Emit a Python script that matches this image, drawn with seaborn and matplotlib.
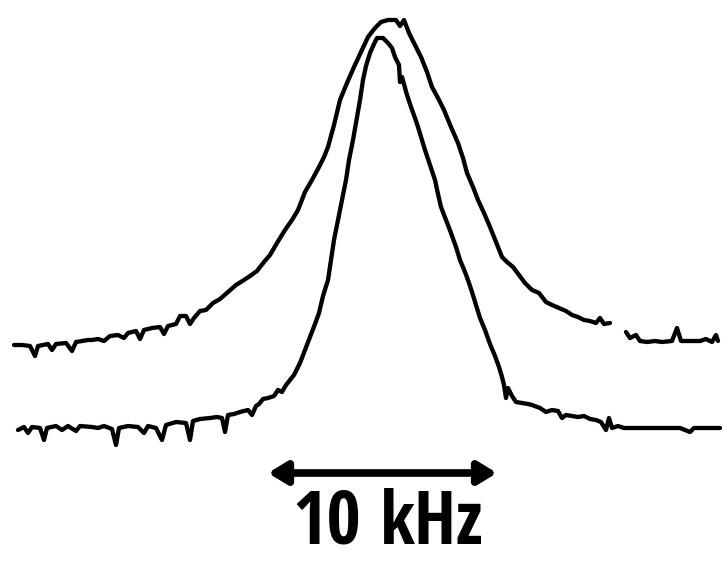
import numpy as np
import pandas as pd
import matplotlib
matplotlib.use("Agg")
import matplotlib.pyplot as plt
from matplotlib import font_manager
from matplotlib.textpath import TextPath
import seaborn as sns

# Frequency axis in channels (225 channels = 10 kHz), signal in arbitrary units
broad_ch = [14, 22, 30, 35, 38, 48, 52, 56, 66, 72, 76, 88, 92, 98, 104, 110, 118, 124, 128, 136,
            140, 144, 152, 160, 164, 168, 176, 180, 186, 190, 194, 200, 206, 213, 220, 228, 236, 244,
            250, 257, 264, 270, 277, 285, 292, 298, 305, 312, 319, 324, 328, 334, 340, 347, 354, 361,
            368, 375, 381, 388, 396, 400, 404, 409, 415, 421, 427, 432, 438, 444, 451, 458, 463, 467,
            473, 478, 484, 490, 496, 502, 507, 513, 519, 525, 532, 539, 546, 552, 559, 566, 572, 578,
            584, 590, 596, 600, 604, 610]
broad_sig = [224, 224, 223, 213, 223, 225, 219, 225, 226, 218, 227, 229, 229, 230, 228, 233, 234, 231, 236, 238,
             230, 239, 241, 242, 235, 243, 245, 253, 253, 245, 251, 258, 259, 266, 270, 277, 284, 289,
             293, 298, 307, 314, 326, 339, 349, 359, 377, 389, 402, 412, 422, 444, 469, 486, 502, 517,
             532, 541, 547, 549, 549, 543, 549, 536, 524, 512, 497, 482, 471, 459, 442, 426, 411, 396,
             382, 369, 356, 342, 327, 312, 307, 302, 294, 286, 279, 276, 267, 264, 261, 258, 254, 252,
             249, 248, 246, 251, 245, 246]
broad_tail_ch = [626, 630, 636, 640, 647, 655, 662, 672, 677, 681, 690, 700, 706, 712, 716, 718]
broad_tail_sig = [237, 231, 234, 228, 227, 228, 227, 228, 241, 228, 228, 228, 230, 227, 234, 228]

narrow_ch = [18, 24, 28, 32, 40, 44, 47, 56, 62, 68, 76, 80, 92, 98, 104, 112, 116, 119, 128, 138,
             144, 148, 156, 162, 166, 176, 186, 190, 193, 200, 210, 217, 222, 225, 228, 234, 240, 248,
             252, 256, 259, 263, 268, 274, 278, 282, 286, 290, 294, 300, 305, 310, 315, 319, 323, 328,
             331, 334, 338, 342, 346, 349, 353, 356, 360, 363, 366, 370, 374, 377, 383, 388, 392, 395,
             399, 400, 402, 407, 411, 415, 418, 422, 425, 430, 435, 438, 441, 446, 451, 456, 460, 465,
             469, 472, 476, 480, 485, 490, 495, 499, 502, 504, 506, 508, 512, 516, 522, 528, 532, 540,
             546, 552, 558, 562, 566, 572, 578, 584, 590, 596, 601, 606, 609, 612, 618, 624, 640, 660,
             680, 690, 694, 710, 720]
narrow_sig = [139, 142, 136, 142, 141, 129, 141, 143, 139, 143, 138, 143, 142, 141, 143, 140, 124, 141, 143, 142,
              136, 143, 141, 129, 144, 147, 146, 129, 148, 150, 151, 152, 151, 137, 154, 155, 157, 159,
              154, 163, 165, 170, 171, 173, 179, 177, 184, 189, 194, 206, 219, 232, 245, 256, 273, 289,
              309, 329, 349, 369, 389, 409, 429, 446, 469, 489, 503, 516, 525, 531, 531, 526, 521, 512,
              504, 487, 492, 474, 462, 451, 442, 429, 419, 404, 389, 375, 362, 349, 336, 322, 309, 297,
              286, 277, 264, 251, 239, 225, 213, 202, 192, 184, 171, 181, 173, 167, 166, 165, 164, 161,
              157, 159, 158, 151, 154, 153, 152, 153, 150, 149, 147, 139, 151, 141, 143, 141, 141, 141,
              141, 137, 141, 141, 141]

scale_start, scale_end = 268, 497   # 10 kHz scale bar (channels)
scale_value, scale_unit = "10", "kHz"

frames = []
for seg, (ch, sig) in enumerate([(broad_ch, broad_sig), (broad_tail_ch, broad_tail_sig)]):
    frames.append(pd.DataFrame({"ch": ch, "sig": sig, "seg": seg, "trace": "broad"}))
frames.append(pd.DataFrame({"ch": narrow_ch, "sig": narrow_sig, "seg": 2, "trace": "narrow"}))
df = pd.concat(frames, ignore_index=True)

ALLOWED = ("dejavu sans", "liberation sans", "noto sans", "roboto", "open sans", "lato", "inter")


def path_w(s, prop):
    return TextPath((0, 0), s, prop=prop, size=100).get_extents().width


def pick_narrow_bold():
    """Pick the narrowest standard upright bold sans face (measured) for the DIN-like label."""
    best = None
    seen = set()
    for f in font_manager.fontManager.ttflist:
        if f.fname in seen:
            continue
        seen.add(f.fname)
        name = f.name.lower()
        if not name.startswith(ALLOWED):
            continue
        w = f.weight if isinstance(f.weight, int) else (700 if "bold" in str(f.weight) else 400)
        if w < 600 or w > 800 or f.style != "normal":
            continue
        low = (f.name + f.fname).lower()
        if any(k in low for k in ("mono", "cjk", "math", "symbol", "display", "italic")):
            continue
        try:
            prop = font_manager.FontProperties(fname=f.fname)
            cap = TextPath((0, 0), "H", prop=prop, size=100).get_extents().height
            ratio = (path_w("10", prop) + path_w("kHz", prop)) / cap
        except Exception:
            continue
        if not np.isfinite(ratio) or ratio < 2.0:
            continue
        if best is None or ratio < best[0]:
            best = (ratio, f.fname, cap)
    if best is None:
        prop = font_manager.FontProperties(family="DejaVu Sans", weight="bold")
        cap = TextPath((0, 0), "H", prop=prop, size=100).get_extents().height
        return prop, cap
    return font_manager.FontProperties(fname=best[1]), best[2]


fprop, cap100 = pick_narrow_bold()
px_per_pt = 100 / 72
size_cap = 53 / (cap100 / 100) / px_per_pt
w_words100 = path_w(scale_value, fprop) + path_w(scale_unit, fprop)
size_fit = (191 - 26) / (w_words100 / 100) / px_per_pt
fprop.set_size(min(size_cap, size_fit))

sns.set_theme(style="white")
fig = plt.figure(figsize=(7.23, 5.69), dpi=100)
ax = fig.add_axes([0, 0, 1, 1])

sns.lineplot(data=df, x="ch", y="sig", units="seg", estimator=None, sort=False,
             color="black", lw=3.1, ax=ax, legend=False)

ax.annotate("", xy=(scale_start, 96), xytext=(scale_end, 96),
            arrowprops=dict(arrowstyle="<|-|>,head_length=0.9,head_width=0.55",
                            lw=5.5, color="black", shrinkA=0, shrinkB=0))
ax.text(292, 53, scale_value, ha="left", va="center_baseline",
        fontproperties=fprop, color="black")
ax.text(483, 53, scale_unit, ha="right", va="center_baseline",
        fontproperties=fprop, color="black")

ax.set_xlim(0, 723)
ax.set_ylim(0, 569)
ax.axis("off")
fig.savefig("out.png", dpi=100, facecolor="white")
